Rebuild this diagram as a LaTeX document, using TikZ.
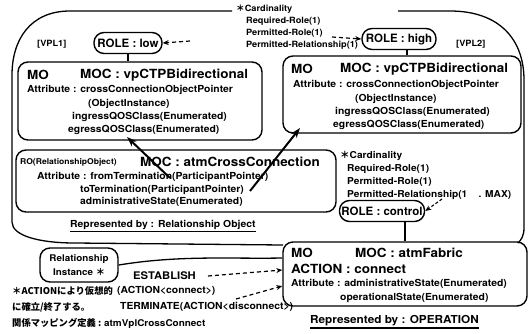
\documentclass[tikz,border=0pt]{standalone}
\usepackage{fontspec}
\setmainfont{TeX Gyre Heros}
\newfontfamily\wf{TeX Gyre Heros}[FakeStretch=1.07]
\newfontfamily\jpfont{Noto Sans CJK JP}
\usetikzlibrary{arrows.meta}
\newcommand\jast{{\jpfont\bfseries ＊}}
\begin{document}
\begin{tikzpicture}[x=1pt,y=-1pt,
  ln/.style={line width=1.3pt},
  box/.style={draw, line width=1.4pt, rounded corners=10pt, inner sep=0pt},
  pill/.style={draw, line width=1.4pt, rounded corners=10pt, minimum height=21pt, inner sep=2pt, font=\fontsize{11.5}{12}\selectfont\bfseries},
  hd/.style={anchor=west, inner sep=0pt, font=\wf\fontsize{12.6}{14}\selectfont\bfseries},
  tx/.style={anchor=west, inner sep=0pt, font=\wf\fontsize{9.7}{10}\selectfont\bfseries},
  cd/.style={anchor=west, inner sep=0pt, font=\wf\fontsize{8.6}{10}\selectfont\bfseries},
  kd/.style={anchor=west, inner sep=0pt, font=\wf\fontsize{9.5}{10}\selectfont\bfseries},
  jp/.style={anchor=west, inner sep=0pt, font=\fontsize{9.3}{10}\selectfont\jpfont\bfseries},
  dsh/.style={line width=1.2pt, dash pattern=on 4pt off 3pt, -{Stealth[length=6pt,width=5pt]}},
  thk/.style={line width=2pt, -{Stealth[length=10pt,width=7pt]}}
]
\useasboundingbox (0,0) rectangle (530,333);

% outer boundary
\draw[ln] (232,11) -- (70,11) .. controls (30,11) and (12,40) .. (12,75) -- (12,222)
  .. controls (12,236) and (40,243) .. (75,243) -- (283,245);
\draw[ln] (398,11) -- (450,11) .. controls (500,11) and (524,40) .. (524,80) -- (524,228)
  .. controls (524,236) and (521,240) .. (518,243);

% top cardinality
\node[cd] (c1) at (236,9) {\jast Cardinality};
\node[cd] (c2) at (246,21) {Required-Role(1)};
\node[cd] (c3) at (246,33) {Permitted-Role(1)};
\node[cd] (c4) at (246,45) {Permitted-Relationship(1)};

\node[pill,minimum width=68pt] (rolelow) at (128,43) {ROLE : low};
\node[pill,minimum width=74pt] (rolehigh) at (399,39) {ROLE : high};
\node[cd] (vpl1) at (37,44) {[VPL1]};
\node[cd] (vpl2) at (456,44) {[VPL2]};

\coordinate (d1) at (190,41);
\coordinate (d2) at (332,37);
\draw[dsh] (d1) -- (rolelow.east);
\draw[dsh] (d2) -- (rolehigh.west);

% left MO box
\node[box, minimum width=244pt, minimum height=78pt] (lbox) at (140,101) {};
\node[hd] (lmo) at (27,75) {MO};
\node[hd] (lmoc) at (80,75) {MOC : vpCTPBidirectional};
\node[tx] (la1) at (27,90) {Attribute : crossConnectionObjectPointer};
\node[tx] (la2) at (88,104) {(ObjectInstance)};
\node[tx] (la3) at (72,117) {ingressQOSClass(Enumerated)};
\node[tx] (la4) at (68,130) {egressQOSClass(Enumerated)};

% right MO box
\node[box, minimum width=238pt, minimum height=77pt] (rbox) at (402,94.5) {};
\node[hd] (rmo) at (291,69) {MO};
\node[hd] (rmoc) at (340,69) {MOC : vpCTPBidirectional};
\node[tx] (ra1) at (293,85) {Attribute : crossConnectionObjectPointer};
\node[tx] (ra2) at (355,99) {(ObjectInstance)};
\node[tx] (ra3) at (335,112) {ingressQOSClass(Enumerated)};
\node[tx] (ra4) at (333,125) {egressQOSClass(Enumerated)};

\draw[ln] (rolelow.south) -- (rolelow.south |- lbox.north);
\draw[ln] ([xshift=8pt]rolehigh.south) -- ([xshift=8pt]rolehigh.south |- rbox.north);

% RO box
\node[box, minimum width=320pt, minimum height=62pt] (robox) at (176,181) {};
\node[tx, font=\wf\fontsize{8}{9}\selectfont\bfseries] (ro1) at (20,162) {RO(RelationshipObject)};
\node[hd] (romoc) at (140,162) {MOC : atmCrossConnection};
\node[tx] (ro2) at (37,177) {Attribute : fromTermination(ParticipantPointer)};
\node[tx] (ro3) at (80,190) {toTermination(ParticipantPointer)};
\node[tx] (ro4) at (80,202) {administrativeState(Enumerated)};
\node[tx] (rep1) at (70,225) {Represented by : Relationship Object};
\draw[line width=1pt] ([yshift=-1.5pt]rep1.south west) -- ([yshift=-1.5pt]rep1.south east);

\coordinate (t1s) at (170,178);
\coordinate (t1e) at (127,137);
\coordinate (t2s) at (250,191);
\coordinate (t2e) at (300,128);
\draw[thk] (t1s) -- (t1e);
\draw[thk] (t2s) -- (t2e);

% right cardinality
\node[kd] (k1) at (340,156) {\jast Cardinality};
\node[kd] (k2) at (347,169) {Required-Role(1)};
\node[kd] (k3) at (347,182) {Permitted-Role(1)};
\node[kd] (k4) at (347,195) {Permitted-Relationship(1\ \ \ \ . MAX)};
\node[pill,minimum width=74pt] (rolectrl) at (382,211) {ROLE : control};
\coordinate (d3) at (442,199);
\draw[line width=1.1pt, dash pattern=on 3pt off 2pt, -{Stealth[length=6pt,width=5pt]}] (d3) -- (rolectrl.east);

% atmFabric box
\node[box, minimum width=244pt, minimum height=64pt] (fbox) at (405,274) {};
\draw[ln] ([xshift=23pt]rolectrl.south) -- ([xshift=23pt]rolectrl.south |- fbox.north);
\node[hd] (fmo) at (291,253) {MO};
\node[hd] (fmoc) at (355,253) {MOC : atmFabric};
\node[hd] (fact) at (291,269) {ACTION : connect};
\node[tx] (fa1) at (291,284) {Attribute : administrativeState(Enumerated)};
\node[tx] (fa2) at (340,298) {operationalState(Enumerated)};
\node[tx, font=\wf\fontsize{11}{12}\selectfont\bfseries] (rep2) at (310,321) {Represented by : OPERATION};
\draw[line width=1.2pt] ([yshift=-1.5pt]rep2.south west) -- ([yshift=-1.5pt]rep2.south east);

% relationship instance
\node[box, minimum width=78pt, minimum height=34pt, align=center, font=\wf\fontsize{9.2}{14}\selectfont\bfseries] (rel) at (79,265) {Relationship\\Instance \jast};
\draw[ln] (rel.east) .. controls (180,255) and (230,259) .. (fbox.west |- 0,258);

\node[tx, font=\wf\fontsize{10.5}{11}\selectfont\bfseries] (est) at (133,276) {ESTABLISH};
\node[tx] (acon) at (117,291) {(ACTION<connect>)};
\node[tx] (term) at (120,307) {TERMINATE(ACTION<disconnect>)};
\coordinate (e1) at (208,276);
\coordinate (e2) at (236,299);
\draw[dsh] (e1) -- (fbox.west |- 0,270);
\draw[dsh] (e2) -- (fbox.west |- 0,286);

\node[jp] (j1) at (12,291) {＊ACTIONにより仮想的};
\node[jp] (j2) at (12,307) {に確立/終了する。};
\node[jp] (j3) at (12,323) {関係マッピング定義 : {\wf\bfseries atmVplCrossConnect}};
\end{tikzpicture}
\end{document}
